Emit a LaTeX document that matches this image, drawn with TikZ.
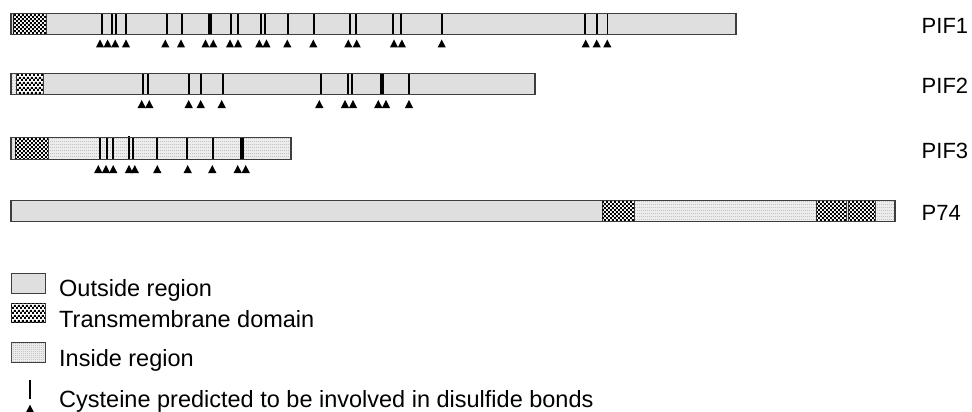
\documentclass[tikz,border=0pt]{standalone}
\usepackage{fontspec}
\setmainfont{Liberation Sans}
\usetikzlibrary{patterns}
\definecolor{outfill}{RGB}{223,223,223}
\definecolor{infill}{RGB}{236,236,236}
\definecolor{dotcol}{RGB}{140,140,140}
\definecolor{barcol}{RGB}{62,62,62}
\pgfdeclarepatternformonly{finedots}{\pgfqpoint{0pt}{0pt}}{\pgfqpoint{2.4pt}{2.4pt}}{\pgfqpoint{2.4pt}{2.4pt}}{%
  \pgfpathrectangle{\pgfqpoint{0pt}{0pt}}{\pgfqpoint{0.8pt}{0.8pt}}\pgfusepath{fill}}
\pgfdeclarepatternformonly{finecheck}{\pgfqpoint{0pt}{0pt}}{\pgfqpoint{4.4pt}{4.4pt}}{\pgfqpoint{4.4pt}{4.4pt}}{%
  \pgfpathrectangle{\pgfqpoint{0pt}{0pt}}{\pgfqpoint{2.2pt}{2.2pt}}%
  \pgfpathrectangle{\pgfqpoint{2.2pt}{2.2pt}}{\pgfqpoint{2.2pt}{2.2pt}}\pgfusepath{fill}}
\newcommand\rowlabfont{\fontsize{22}{26}\selectfont}
\newcommand\legtextfont{\fontsize{23.5}{28}\selectfont}
\tikzset{
  segline/.style={draw=barcol, line width=0.8pt},
  outreg/.style={segline, fill=outfill},
  tmreg/.style={segline, fill=white, postaction={pattern=finecheck, pattern color=black}},
  inreg/.style={segline, fill=infill, postaction={pattern=finedots, pattern color=dotcol}},
  barline/.style={draw=barcol, line width=1.3pt},
  cysline/.style={draw=black, line width=1.8pt},
  cystri/.style={fill=black},
  rowlabel/.style={font=\rowlabfont, anchor=base west, inner sep=0pt},
  legtext/.style={font=\legtextfont, anchor=base west, inner sep=0pt}
}
\newcommand\cysrow[3]{\foreach \x in {#3} {\draw[cysline] (\x,#1) -- (\x,#2);}}
\newcommand\trirow[2]{\foreach \x in {#2} {\fill[cystri] (\x-4.1,#1+8) -- (\x+4.1,#1+8) -- (\x,#1) -- cycle;}}
\begin{document}
\begin{tikzpicture}[x=1pt,y=-1pt]
\useasboundingbox (0,0) rectangle (972,412);

% ---------- PIF1 ----------
\draw[outreg] (11,13.3) rectangle (13,34.3);
\draw[tmreg] (13,13.3) rectangle (46.5,34.3);
\draw[outreg] (46.5,13.3) rectangle (736,34.3);
\cysrow{13.3}{34.3}{102.3,111.7,116,126,166.7,181.7,208.6,211.2,230.7,238.3,260.7,264.7,288.3,314,350,355.7,393.3,400.7,442,585.3,596.7,607.5}
\draw[barline] (11,13.3) rectangle (736,34.3);
\trirow{39.5}{100,107.6,115.2,126,165.3,181,205.5,213.3,230,238,259.3,266.5,287.3,313.3,348.3,356.7,394,401.9,441.7,585.7,596.7,607.3}
\node[rowlabel] (pif1) at (921.5,33.3) {PIF1};

% ---------- PIF2 ----------
\draw[inreg] (11,73.3) rectangle (16.7,94.5);
\draw[tmreg] (16.7,73.3) rectangle (43.3,94.5);
\draw[outreg] (43.3,73.3) rectangle (535,94.5);
\cysrow{73.3}{94.5}{142.7,148.3,188.7,201,222.7,320.7,347.7,352.3,380.7,383.3,408.7}
\draw[barline] (11,73.3) rectangle (535,94.5);
\trirow{100}{141.7,149.3,188.7,200.7,221.7,319.3,345,353,378.3,386,409}
\node[rowlabel] (pif2) at (921.5,93.5) {PIF2};

% ---------- PIF3 ----------
\draw[outreg] (11,137.7) rectangle (15,159.3);
\draw[tmreg] (15,137.7) rectangle (48.3,159.3);
\draw[inreg] (48.3,137.7) rectangle (291,159.3);
\cysrow{137.7}{159.3}{100,106.7,113.3,133.3,157.3,187.3,213.3,240.7,243.3}
\draw[cysline] (129,135.5) -- (129,159.3);
\draw[barline] (11,137.7) rectangle (291,159.3);
\trirow{165}{98.3,106,113.2,129,134.8,157.3,187.7,212.3,237.7,245.7}
\node[rowlabel] (pif3) at (921.5,158.3) {PIF3};

% ---------- P74 ----------
\draw[outreg] (11,200.7) rectangle (602.3,221.7);
\draw[tmreg] (602.3,200.7) rectangle (634.3,221.7);
\draw[inreg] (634.3,200.7) rectangle (816.7,221.7);
\draw[tmreg] (816.7,200.7) rectangle (846,221.7);
\draw[outreg] (846,200.7) rectangle (848.7,221.7);
\draw[tmreg] (848.7,200.7) rectangle (875.7,221.7);
\draw[inreg] (875.7,200.7) rectangle (895,221.7);
\draw[barline] (11,200.7) rectangle (895,221.7);
\node[rowlabel] (p74) at (921.5,220.7) {P74};

% ---------- Legend ----------
\draw[outreg, line width=1pt] (11,273) rectangle (45,293);
\node[legtext] (lout) at (59,296) {Outside region};
\draw[tmreg, line width=1pt] (11,303) rectangle (45,322);
\node[legtext] (ltm) at (59,327) {Transmembrane domain};
\draw[inreg, line width=1pt] (11,342.7) rectangle (45,362.7);
\node[legtext] (lin) at (59,366) {Inside region};
\draw[draw=black, line width=1.6pt] (30,380) -- (30,399);
\fill[cystri] (25.9,412.6) -- (34.1,412.6) -- (30,404.6) -- cycle;
\node[legtext] (lcys) at (59,407) {Cysteine predicted to be involved in disulfide bonds};
\end{tikzpicture}
\end{document}
